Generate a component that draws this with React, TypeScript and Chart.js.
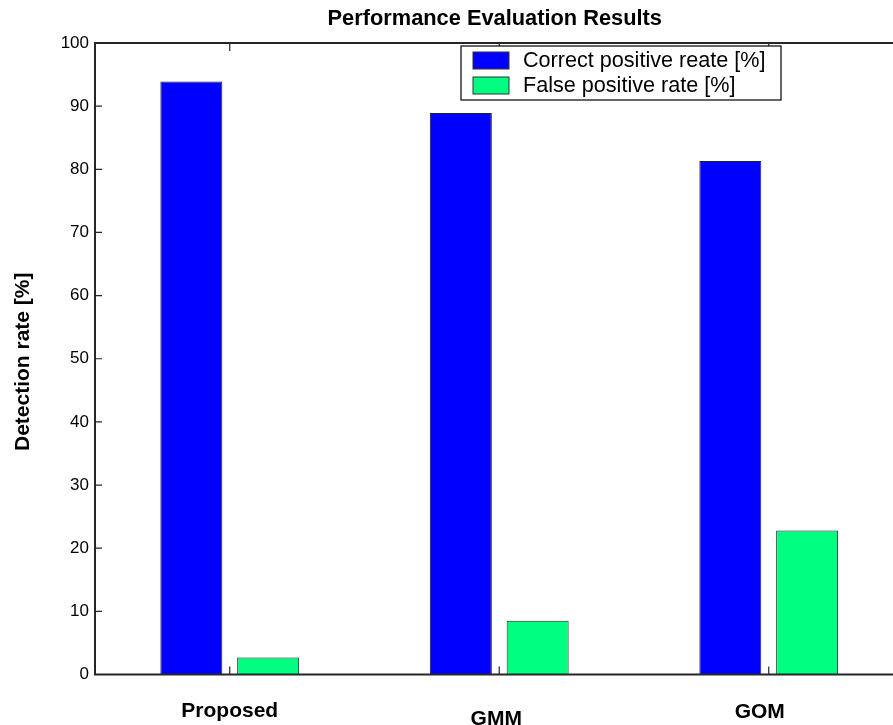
import React, { useEffect, useRef } from "react";
import { Chart, registerables } from "chart.js";

Chart.register(...registerables);

const categories = ["Proposed", "GMM", "GOM"];
const correctPositiveRate = [93.9, 88.9, 81.3];
const falsePositiveRate = [2.7, 8.5, 22.8];
const seriesLabels = ["Correct positive reate [%]", "False positive rate [%]"];
const chartTitle = "Performance Evaluation Results";
const yAxisTitle = "Detection rate [%]";
const yMin = 0;
const yMax = 100;
const yStep = 10;

// layout tweaks for hand-placed category labels (pixel offsets, not data)
const labelDx = [0, -3, -9];
const labelDy = [42, 50, 43];

const FONT = '"Liberation Sans", Arial, Helvetica, sans-serif';
const AXIS_COLOR = "#262626";

const customDraw = {
  id: "matlabStyle",
  afterDraw(chart: any) {
    const { ctx, chartArea } = chart;
    const xs = chart.scales.x;
    const ys = chart.scales.y;
    const { left, right, top, bottom } = chartArea;
    ctx.save();

    // box
    ctx.strokeStyle = AXIS_COLOR;
    ctx.lineWidth = 2;
    ctx.strokeRect(left, top, right - left, bottom - top);

    // inward y ticks
    ctx.lineWidth = 1.2;
    ys.ticks.forEach((t: any) => {
      const y = ys.getPixelForValue(t.value);
      ctx.beginPath();
      ctx.moveTo(left, y);
      ctx.lineTo(left + 7, y);
      ctx.moveTo(right, y);
      ctx.lineTo(right - 7, y);
      ctx.stroke();
    });
    // inward x ticks
    categories.forEach((_, i) => {
      const x = xs.getPixelForValue(i);
      ctx.beginPath();
      ctx.moveTo(x, bottom);
      ctx.lineTo(x, bottom - 8);
      ctx.moveTo(x, top);
      ctx.lineTo(x, top + 8);
      ctx.stroke();
    });

    // category labels
    ctx.fillStyle = "#000";
    ctx.font = `bold 21px ${FONT}`;
    ctx.textAlign = "center";
    ctx.textBaseline = "alphabetic";
    categories.forEach((c, i) => {
      const x = xs.getPixelForValue(i) + labelDx[i];
      ctx.fillText(c, x, bottom + labelDy[i]);
    });

    // title
    ctx.font = `bold 21.8px ${FONT}`;
    ctx.textBaseline = "middle";
    ctx.fillText(chartTitle, (left + right - 9) / 2, 19);

    // y axis title
    ctx.font = `bold 21px ${FONT}`;
    ctx.save();
    ctx.translate(23, (top + bottom) / 2 + 3);
    ctx.rotate(-Math.PI / 2);
    ctx.fillText(yAxisTitle, 0, 0);
    ctx.restore();

    // legend
    const lx = 461, ly = 46, lw = 320, lh = 54;
    ctx.fillStyle = "#fff";
    ctx.fillRect(lx, ly, lw, lh);
    ctx.strokeStyle = "#000";
    ctx.lineWidth = 1.2;
    ctx.strokeRect(lx, ly, lw, lh);
    ctx.font = `21.6px ${FONT}`;
    ctx.textAlign = "left";
    ctx.textBaseline = "middle";
    chart.data.datasets.forEach((ds: any, i: number) => {
      const cy = ly + 14.5 + i * 25;
      ctx.fillStyle = ds.backgroundColor;
      ctx.fillRect(lx + 12, cy - 8.5, 36, 17);
      ctx.strokeStyle = "#333";
      ctx.lineWidth = 1;
      ctx.strokeRect(lx + 12, cy - 8.5, 36, 17);
      ctx.fillStyle = "#000";
      ctx.fillText(ds.label, lx + 62, cy + 1);
    });

    ctx.restore();
  },
};

export default function App() {
  const ref = useRef<HTMLCanvasElement | null>(null);
  useEffect(() => {
    if (!ref.current) return;
    const chart = new Chart(ref.current, {
      type: "bar",
      data: {
        labels: categories,
        datasets: [
          {
            label: seriesLabels[0],
            data: correctPositiveRate,
            backgroundColor: "#0000ff",
            borderColor: "#222222",
            borderWidth: 1,
          },
          {
            label: seriesLabels[1],
            data: falsePositiveRate,
            backgroundColor: "#00ff80",
            borderColor: "#222222",
            borderWidth: 1,
          },
        ],
      },
      options: {
        animation: false,
        responsive: false,
        layout: { padding: { left: 0, right: 6.5, top: 43, bottom: 50.5 } },
        datasets: { bar: { categoryPercentage: 0.57, barPercentage: 0.807 } },
        plugins: {
          legend: { display: false },
          title: { display: false },
          tooltip: { enabled: false },
        },
        scales: {
          x: {
            type: "category",
            offset: true,
            grid: { display: false, drawTicks: false },
            border: { display: false },
            ticks: { display: false },
            afterFit: (s: any) => {
              s.height = 0;
            },
          },
          y: {
            min: yMin,
            max: yMax,
            grid: { display: false, drawTicks: false },
            border: { display: false },
            ticks: {
              stepSize: yStep,
              padding: 6,
              color: "#000",
              font: { family: FONT, size: 17 },
            },
            afterFit: (s: any) => {
              s.width = 95;
            },
          },
        },
      },
      plugins: [customDraw],
    });
    return () => chart.destroy();
  }, []);

  return (
    <div
      style={{
        position: "fixed",
        left: 0,
        top: 0,
        width: 893,
        height: 725,
        overflow: "hidden",
        background: "#fff",
      }}
    >
      <canvas ref={ref} width={910} height={725} style={{ display: "block" }} />
    </div>
  );
}
